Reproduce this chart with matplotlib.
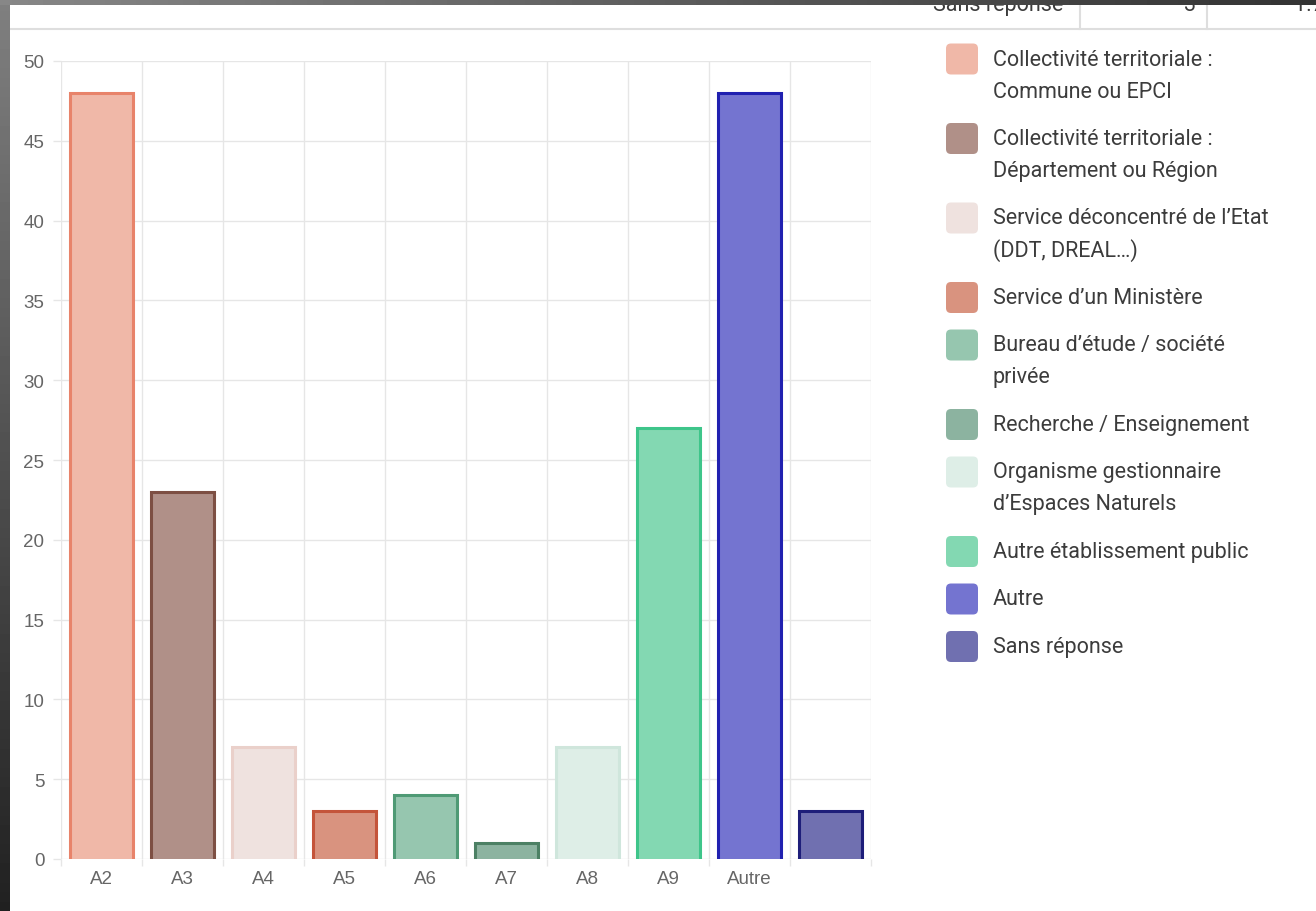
import numpy as np
import matplotlib
matplotlib.use("Agg")
import matplotlib.pyplot as plt
from matplotlib.patches import FancyBboxPatch

plt.rcParams['font.family'] = ['Liberation Sans', 'DejaVu Sans']

W, H = 1316, 912

categories = ["A2", "A3", "A4", "A5", "A6", "A7", "A8", "A9", "Autre", ""]
counts = [48, 23, 7, 3, 4, 1, 7, 27, 48, 3]
labels = [
    "Collectivité territoriale :\nCommune ou EPCI",
    "Collectivité territoriale :\nDépartement ou Région",
    "Service déconcentré de l’Etat\n(DDT, DREAL…)",
    "Service d’un Ministère",
    "Bureau d’étude / société\nprivée",
    "Recherche / Enseignement",
    "Organisme gestionnaire\nd’Espaces Naturels",
    "Autre établissement public",
    "Autre",
    "Sans réponse",
]
fills = ["#f0b8a8", "#b09088", "#efe2df", "#d9937f", "#96c6af",
         "#8cb3a0", "#deeee7", "#83d8b2", "#7474d0", "#7070b0"]
edges = ["#e8836a", "#7d4f43", "#ead0ca", "#c4543a", "#4f9a75",
         "#4c8064", "#cfe6dc", "#3ec58a", "#2020b0", "#1e1e7a"]

# row of the summary table peeking out above the chart
table_row = ["Sans réponse", "3", "1.75 %"]

grid_c = "#e6e6e6"
text_c = "#666666"
font_leg = ["Roboto", "DejaVu Sans"]

fig = plt.figure(figsize=(W / 100, H / 100), dpi=100)
fig.patch.set_facecolor("white")

# main bar chart, placed in pixel terms
x0, x1, ytop, ybot = 61, 871, 62, 860
ax = fig.add_axes([x0 / W, 1 - ybot / H, (x1 - x0) / W, (ybot - ytop) / H])
ax.set_xlim(-0.5, len(categories) - 0.5)
ax.set_ylim(0, 50)
for s in ax.spines.values():
    s.set_visible(False)

xs = np.arange(len(categories))
bw = 0.78
ax.bar(xs, counts, width=bw, color=fills, linewidth=0, zorder=2)
for x, v, ec in zip(xs, counts, edges):
    ax.plot([x - bw / 2, x - bw / 2, x + bw / 2, x + bw / 2], [0, v, v, 0],
            color=ec, lw=2.2, solid_joinstyle="miter", zorder=3)

ax.set_yticks(np.arange(0, 51, 5))
ax.set_xticks(xs)
ax.set_xticklabels(categories)
ax.set_xticks(np.arange(-0.5, len(categories)), minor=True)
ax.grid(axis="y", which="major", color=grid_c, lw=1, zorder=0)
ax.grid(axis="x", which="minor", color=grid_c, lw=1, zorder=0)
ax.tick_params(axis="y", length=6, width=1, color=grid_c, labelcolor=text_c,
               labelsize=13.5, pad=6)
ax.tick_params(axis="x", which="major", length=0, labelcolor=text_c,
               labelsize=13.5, pad=8)
ax.tick_params(axis="x", which="minor", length=5, width=1, color=grid_c)

# overlay in pixel coordinates: legend, table row, window frame
ov = fig.add_axes([0, 0, 1, 1], zorder=5)
ov.set_xlim(0, W)
ov.set_ylim(H, 0)
ov.axis("off")

y = 60
for lab, fc in zip(labels, fills):
    r = 5
    ov.add_patch(FancyBboxPatch((946 + r, y - 15.5 + r), 32 - 2 * r, 31 - 2 * r,
                                boxstyle=f"round,pad={r}", fc=fc, ec="none"))
    lines = lab.split("\n")
    for k, line in enumerate(lines):
        ov.text(993, y + k * 32, line, fontsize=15.5, family=font_leg,
                color="#3c3c3c", va="center", ha="left")
    y += len(lines) * 32 + 15.5

ov.plot([10, W], [30, 30], color="#dedede", lw=1.5)
for sx in (1080, 1207):
    ov.plot([sx, sx], [6, 30], color="#dedede", lw=1.5)
ov.text(933, 11, table_row[0], fontsize=15.5, family=font_leg,
        color="#3c3c3c", va="baseline")
ov.text(1196, 11, table_row[1], fontsize=15.5, family=font_leg,
        color="#3c3c3c", va="baseline", ha="right")
ov.text(1294, 11, table_row[2], fontsize=15.5, family=font_leg,
        color="#3c3c3c", va="baseline", clip_on=True)

# dark gradient edges of the surrounding window
left_grad = np.linspace(0.50, 0.13, 200).reshape(-1, 1)
top_grad = np.linspace(0.53, 0.20, 400).reshape(1, -1)
ov.imshow(left_grad, cmap="gray", vmin=0, vmax=1, extent=(0, 10, H, 0),
          aspect="auto", zorder=10, interpolation="bilinear")
ov.imshow(top_grad, cmap="gray", vmin=0, vmax=1, extent=(0, W, 6, 0),
          aspect="auto", zorder=11, interpolation="bilinear")
ov.set_xlim(0, W)
ov.set_ylim(H, 0)

fig.savefig("out.png", dpi=100)
